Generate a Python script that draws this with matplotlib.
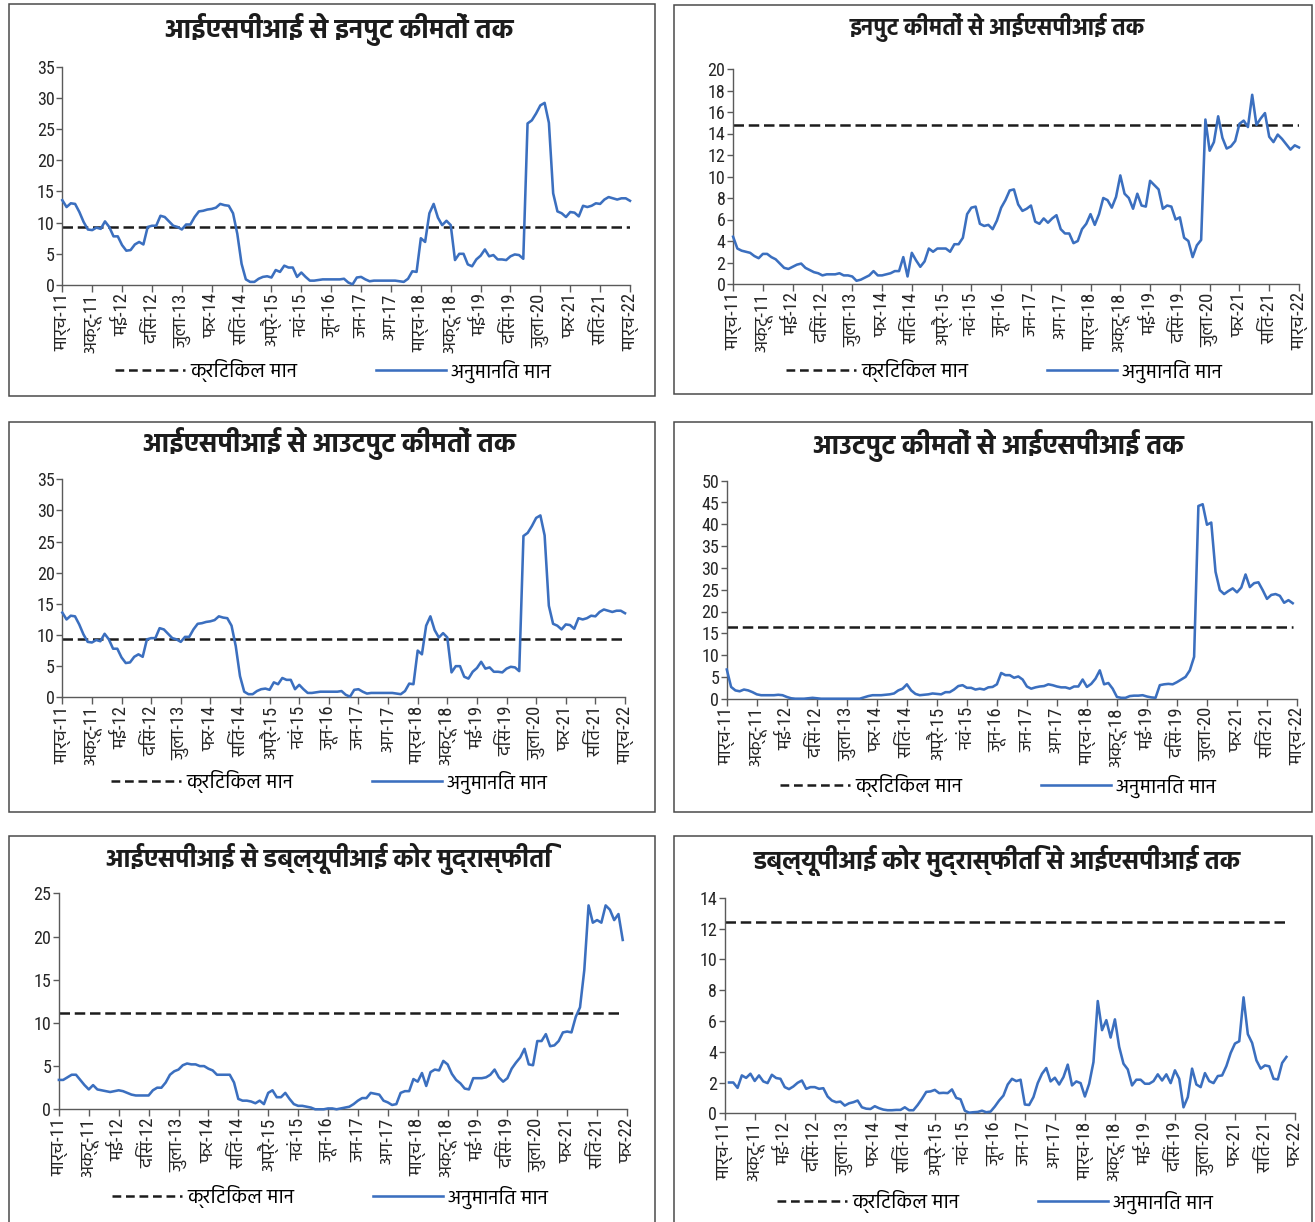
import numpy as np
import matplotlib
matplotlib.use("Agg")
import matplotlib.pyplot as plt
from matplotlib.lines import Line2D
from matplotlib.patches import Rectangle
from matplotlib import font_manager as fm

# ---------------------------------------------------------------- fonts
_installed = {f.name for f in fm.fontManager.ttflist}


def pick(candidates, default):
    for c in candidates:
        if c in _installed:
            return c
    return default


DEVA = pick(["Hind", "Noto Sans Devanagari", "Mukta", "FreeSans"], "DejaVu Sans")
NARROW = pick(["Liberation Sans Narrow", "Roboto Condensed", "Liberation Sans"], "DejaVu Sans")

# ---------------------------------------------------------------- data
# month positions: 0 = March 2011, one step per month
tick_months = list(range(0, 134, 7))
tick_labels_mar22 = ["मार्च-11", "अक्टू-11", "मई-12", "दिसं-12", "जुला-13", "फर-14",
                     "सितं-14", "अप्रै-15", "नवं-15", "जून-16", "जन-17", "अग-17",
                     "मार्च-18", "अक्टू-18", "मई-19", "दिसं-19", "जुला-20", "फर-21",
                     "सितं-21", "मार्च-22"]
tick_labels_feb22 = tick_labels_mar22[:-1] + ["फर-22"]

titles = ["आईएसपीआई से इनपुट कीमतों तक",
          "इनपुट कीमतों से आईएसपीआई तक",
          "आईएसपीआई से आउटपुट कीमतों तक",
          "आउटपुट कीमतों से आईएसपीआई तक",
          "आईएसपीआई से डब्ल्यूपीआई कोर मुद्रास्फीति",
          "डब्ल्यूपीआई कोर मुद्रास्फीति से आईएसपीआई तक"]
legend_labels = ["क्रिटिकल मान", "अनुमानित मान"]

critical_values = [9.3, 14.8, 9.3, 16.4, 11.2, 12.4]
series_start = [0, 0, 0, 0, 0, 1]

isp_to_input = [
    13.6, 12.5, 13.1, 13.0, 11.7, 10.1, 8.9, 8.8, 9.2, 9.0,
    10.2, 9.3, 7.8, 7.8, 6.4, 5.5, 5.6, 6.5, 6.9, 6.5,
    9.3, 9.5, 9.5, 11.1, 10.9, 10.2, 9.5, 9.3, 8.9, 9.7,
    9.7, 10.9, 11.8, 11.9, 12.1, 12.2, 12.4, 13.0, 12.8, 12.7,
    11.5, 8.2, 3.4, 0.9, 0.5, 0.5, 1.0, 1.3, 1.4, 1.2,
    2.4, 2.1, 3.1, 2.8, 2.8, 1.3, 2.0, 1.3, 0.7, 0.7,
    0.8, 0.9, 0.9, 0.9, 0.9, 0.9, 1.0, 0.4, 0.1, 1.2,
    1.3, 0.9, 0.6, 0.7, 0.7, 0.7, 0.7, 0.7, 0.7, 0.6,
    0.5, 1.0, 2.2, 2.1, 7.5, 6.9, 11.5, 13.0, 10.8, 9.6,
    10.3, 9.6, 4.0, 5.0, 5.0, 3.3, 3.0, 4.1, 4.7, 5.7,
    4.6, 4.8, 4.1, 4.1, 4.0, 4.6, 4.9, 4.8, 4.2, 25.9,
    26.4, 27.5, 28.8, 29.2, 26.0, 14.7, 11.8, 11.5, 10.9, 11.7,
    11.6, 11.0, 12.7, 12.5, 12.7, 13.1, 13.0, 13.7, 14.1, 13.9,
    13.7, 13.9, 13.9, 13.5]

input_to_isp = [
    4.4, 3.3, 3.1, 3.0, 2.9, 2.6, 2.4, 2.8, 2.8, 2.5,
    2.3, 1.9, 1.5, 1.4, 1.6, 1.8, 1.9, 1.5, 1.3, 1.1,
    1.0, 0.8, 0.9, 0.9, 0.9, 1.0, 0.8, 0.8, 0.7, 0.3,
    0.4, 0.6, 0.8, 1.2, 0.8, 0.8, 0.9, 1.0, 1.2, 1.2,
    2.5, 0.7, 2.9, 2.2, 1.6, 2.1, 3.3, 3.0, 3.3, 3.3,
    3.3, 3.0, 3.7, 3.7, 4.3, 6.5, 7.1, 7.2, 5.6, 5.4,
    5.5, 5.1, 5.9, 7.1, 7.8, 8.7, 8.8, 7.4, 6.8, 7.0,
    7.3, 5.8, 5.6, 6.1, 5.7, 6.1, 6.4, 5.1, 4.7, 4.7,
    3.8, 4.0, 5.1, 5.6, 6.5, 5.5, 6.5, 8.0, 7.8, 7.1,
    8.1, 10.1, 8.4, 8.0, 7.0, 8.4, 7.3, 7.2, 9.6, 9.2,
    8.8, 7.0, 7.3, 7.2, 6.0, 6.2, 4.3, 4.0, 2.5, 3.6,
    4.1, 15.3, 12.4, 13.2, 15.6, 13.6, 12.6, 12.8, 13.3, 14.9,
    15.2, 14.6, 17.6, 14.8, 15.4, 15.9, 13.7, 13.2, 13.9, 13.5,
    13.0, 12.5, 12.9, 12.7]

isp_to_output = [
    13.6, 12.5, 13.1, 13.0, 11.7, 10.1, 8.9, 8.8, 9.2, 9.0,
    10.2, 9.3, 7.8, 7.8, 6.4, 5.5, 5.6, 6.5, 6.9, 6.5,
    9.3, 9.5, 9.5, 11.1, 10.9, 10.2, 9.5, 9.3, 8.9, 9.7,
    9.7, 10.9, 11.8, 11.9, 12.1, 12.2, 12.4, 13.0, 12.8, 12.7,
    11.5, 8.2, 3.4, 0.9, 0.5, 0.5, 1.0, 1.3, 1.4, 1.2,
    2.4, 2.1, 3.1, 2.8, 2.8, 1.3, 2.0, 1.3, 0.7, 0.7,
    0.8, 0.9, 0.9, 0.9, 0.9, 0.9, 1.0, 0.4, 0.1, 1.2,
    1.3, 0.9, 0.6, 0.7, 0.7, 0.7, 0.7, 0.7, 0.7, 0.6,
    0.5, 1.0, 2.2, 2.1, 7.5, 6.9, 11.5, 13.0, 10.8, 9.6,
    10.3, 9.6, 4.0, 5.0, 5.0, 3.3, 3.0, 4.1, 4.7, 5.7,
    4.6, 4.8, 4.1, 4.1, 4.0, 4.6, 4.9, 4.8, 4.2, 25.9,
    26.4, 27.5, 28.8, 29.2, 26.0, 14.7, 11.8, 11.5, 10.9, 11.7,
    11.6, 11.0, 12.7, 12.5, 12.7, 13.1, 13.0, 13.7, 14.1, 13.9,
    13.7, 13.9, 13.9, 13.5]

output_to_isp = [
    6.7, 2.7, 1.9, 1.7, 2.1, 1.9, 1.5, 1.0, 0.8, 0.8,
    0.8, 0.8, 0.9, 0.8, 0.4, 0.1, 0.0, 0.0, 0.0, 0.1,
    0.2, 0.1, 0.0, 0.0, 0.0, 0.0, 0.0, 0.0, 0.0, 0.0,
    0.0, 0.0, 0.3, 0.6, 0.8, 0.8, 0.8, 0.9, 1.0, 1.2,
    1.9, 2.3, 3.3, 1.9, 1.1, 0.8, 0.9, 1.0, 1.2, 1.1,
    1.0, 1.5, 1.5, 2.1, 2.9, 3.1, 2.5, 2.5, 2.1, 2.3,
    2.1, 2.6, 2.7, 3.3, 5.9, 5.4, 5.4, 4.8, 5.1, 4.4,
    2.8, 2.3, 2.6, 2.8, 2.9, 3.3, 3.1, 2.8, 2.6, 2.6,
    2.3, 2.8, 2.8, 4.4, 2.7, 3.4, 4.6, 6.5, 3.3, 3.6,
    2.3, 0.4, 0.2, 0.2, 0.6, 0.7, 0.7, 0.8, 0.5, 0.3,
    0.2, 3.1, 3.3, 3.4, 3.3, 3.8, 4.4, 5.0, 6.5, 9.6,
    44.2, 44.6, 39.9, 40.4, 29.1, 24.9, 24.0, 24.7, 25.3, 24.4,
    25.5, 28.5, 25.6, 26.5, 26.7, 24.9, 22.9, 23.8, 24.0, 23.6,
    22.0, 22.6, 21.9]

isp_to_wpi_core = [
    3.4, 3.4, 3.7, 4.0, 4.0, 3.4, 2.8, 2.3, 2.8, 2.3,
    2.2, 2.1, 2.0, 2.1, 2.2, 2.1, 1.9, 1.7, 1.6, 1.6,
    1.6, 1.6, 2.2, 2.5, 2.5, 3.1, 4.0, 4.4, 4.6, 5.1,
    5.3, 5.2, 5.2, 5.0, 5.0, 4.7, 4.5, 4.0, 4.0, 4.0,
    4.0, 3.1, 1.2, 1.0, 1.0, 0.9, 0.7, 1.0, 0.6, 1.9,
    2.2, 1.4, 1.4, 1.9, 1.2, 0.6, 0.4, 0.4, 0.3, 0.2,
    0.0, 0.0, 0.0, 0.1, 0.1, 0.0, 0.1, 0.2, 0.3, 0.6,
    1.0, 1.3, 1.3, 1.9, 1.8, 1.7, 1.0, 0.8, 0.5, 0.6,
    1.9, 2.1, 2.1, 3.5, 3.2, 4.2, 2.7, 4.3, 4.6, 4.5,
    5.6, 5.2, 4.1, 3.4, 3.0, 2.4, 2.3, 3.6, 3.6, 3.6,
    3.7, 4.0, 4.6, 3.7, 3.2, 3.6, 4.7, 5.4, 6.0, 7.0,
    5.2, 5.1, 7.9, 7.9, 8.7, 7.3, 7.4, 7.9, 8.9, 9.0,
    8.9, 10.7, 11.8, 16.1, 23.6, 21.6, 21.9, 21.6, 23.6, 23.1,
    21.9, 22.6, 19.6]

wpi_core_to_isp = [
    2.0, 2.0, 1.65, 2.46, 2.3, 2.57, 2.1, 2.46, 2.07, 1.96,
    2.5, 2.29, 2.24, 1.7, 1.57, 1.74, 1.98, 2.13, 1.59, 1.7,
    1.7, 1.59, 1.63, 1.09, 0.83, 0.72, 0.76, 0.5, 0.65, 0.72,
    0.83, 0.39, 0.3, 0.28, 0.46, 0.33, 0.24, 0.2, 0.2, 0.22,
    0.22, 0.39, 0.2, 0.2, 0.54, 0.94, 1.39, 1.42, 1.52, 1.31,
    1.33, 1.31, 1.55, 1.0, 0.91, 0.17, 0.04, 0.07, 0.09, 0.17,
    0.07, 0.11, 0.44, 0.83, 1.15, 1.87, 2.24, 2.09, 2.18, 0.57,
    0.54, 1.05, 1.96, 2.57, 2.94, 2.07, 2.31, 1.87, 2.35, 3.16,
    1.81, 2.07, 1.96, 1.09, 1.92, 3.33, 7.29, 5.4, 6.05, 4.92,
    6.1, 4.31, 3.22, 2.85, 1.81, 2.18, 2.18, 1.92, 1.92, 2.09,
    2.53, 2.13, 2.53, 1.96, 2.79, 2.24, 0.39, 1.05, 2.9, 1.87,
    1.7, 2.61, 2.09, 1.96, 2.42, 2.46, 3.07, 3.92, 4.53, 4.68,
    7.53, 5.14, 4.57, 3.44, 2.9, 3.11, 3.05, 2.24, 2.2, 3.27,
    3.66]

series = [isp_to_input, input_to_isp, isp_to_output,
          output_to_isp, isp_to_wpi_core, wpi_core_to_isp]
y_max = [35, 20, 35, 50, 25, 14]
y_step = [5, 2, 5, 5, 5, 2]
x_labels = [tick_labels_mar22] * 4 + [tick_labels_feb22] * 2

# ---------------------------------------------------------------- layout (pixels)
W, H = 1315, 1222
layout = [
    # box (x0, y0, x1, y1), axes (left, top, right, bottom), title (x, y, size), legend (x, y)
    dict(box=(8.5, 4.5, 654.5, 396), axes=(62.3, 66.7, 630, 285), title=(339, 29, 19.3), legend=(333, 371)),
    dict(box=(674, 4.5, 1312, 394), axes=(733.1, 69, 1299, 284), title=(997, 27, 16.3), legend=(1004, 371)),
    dict(box=(8.5, 421.5, 654.5, 811.5), axes=(62.3, 479.3, 625, 697.3), title=(329, 443, 19.3), legend=(329, 782)),
    dict(box=(674, 421.5, 1312, 811.5), axes=(726.8, 480.7, 1297, 698.7), title=(998, 445, 19.2), legend=(998, 786)),
    dict(box=(8.5, 836, 654.5, 1240), axes=(58.9, 893.3, 627, 1109.3), title=(329, 859, 18.0), legend=(330, 1197)),
    dict(box=(674, 836, 1312, 1240), axes=(724.7, 897.7, 1295, 1113.3), title=(997, 861, 18.0), legend=(995, 1202)),
]

BLUE = "#3b6fbf"
DARK = "#1c1c1c"
AXIS = "#5a5a5a"


def fx(px):
    return px / W


def fy(py):
    return 1 - py / H


fig = plt.figure(figsize=(W / 100, H / 100), dpi=100)
fig.patch.set_facecolor("white")

for k, lay in enumerate(layout):
    x0, y0, x1, y1 = lay["box"]
    fig.add_artist(Rectangle((fx(x0), fy(y1)), fx(x1) - fx(x0), fy(y0) - fy(y1),
                             transform=fig.transFigure, fill=False,
                             edgecolor="#4a4a4a", lw=1.1, clip_on=False))

    l, t, r, b = lay["axes"]
    ax = fig.add_axes([fx(l), fy(b), fx(r) - fx(l), fy(t) - fy(b)])
    ax.patch.set_alpha(0)

    vals = np.array(series[k], dtype=float)
    months = np.arange(len(vals)) + series_start[k]
    crit = critical_values[k]

    ax.plot([0, months[-1]], [crit, crit], color=DARK, lw=1.8,
            linestyle=(0, (4.2, 1.9)), solid_capstyle="butt", zorder=2)
    ax.plot(months, vals, color=BLUE, lw=1.85, clip_on=False,
            solid_joinstyle="round", zorder=3)

    ax.set_xlim(0, 133)
    ax.set_ylim(0, y_max[k])
    ax.set_yticks(np.arange(0, y_max[k] + 0.01, y_step[k]))
    ax.set_xticks(tick_months)
    ax.set_xticklabels(x_labels[k], rotation=90, fontsize=13.5,
                       fontfamily=[NARROW, DEVA], color="#262626")
    for lab in ax.get_yticklabels():
        lab.set_fontfamily([NARROW, DEVA])
        lab.set_fontsize(13)
        lab.set_color("#262626")

    for s in ("top", "right"):
        ax.spines[s].set_visible(False)
    for s in ("left", "bottom"):
        ax.spines[s].set_color(AXIS)
        ax.spines[s].set_linewidth(1.0)
    ax.tick_params(axis="y", direction="out", length=4, width=1, color=AXIS, pad=1.5)
    ax.tick_params(axis="x", direction="out", length=5, width=1, color=AXIS, pad=1)

    tx, ty, ts = lay["title"]
    fig.text(fx(tx), fy(ty), titles[k], ha="center", va="center", fontsize=ts,
             fontweight="bold", fontfamily=DEVA, color=DARK)

    handles = [Line2D([], [], color=DARK, lw=1.8, linestyle=(0, (3.5, 1.9))),
               Line2D([], [], color=BLUE, lw=1.85)]
    lx, ly = lay["legend"]
    ax.legend(handles, legend_labels, loc="center", ncol=2,
              bbox_to_anchor=(fx(lx), fy(ly)), bbox_transform=fig.transFigure,
              frameon=False, handlelength=3.5, handletextpad=0.25,
              columnspacing=3.9, borderaxespad=0, borderpad=0,
              prop=fm.FontProperties(family=DEVA, size=14.5))

fig.savefig("out.png", dpi=100, facecolor="white")
